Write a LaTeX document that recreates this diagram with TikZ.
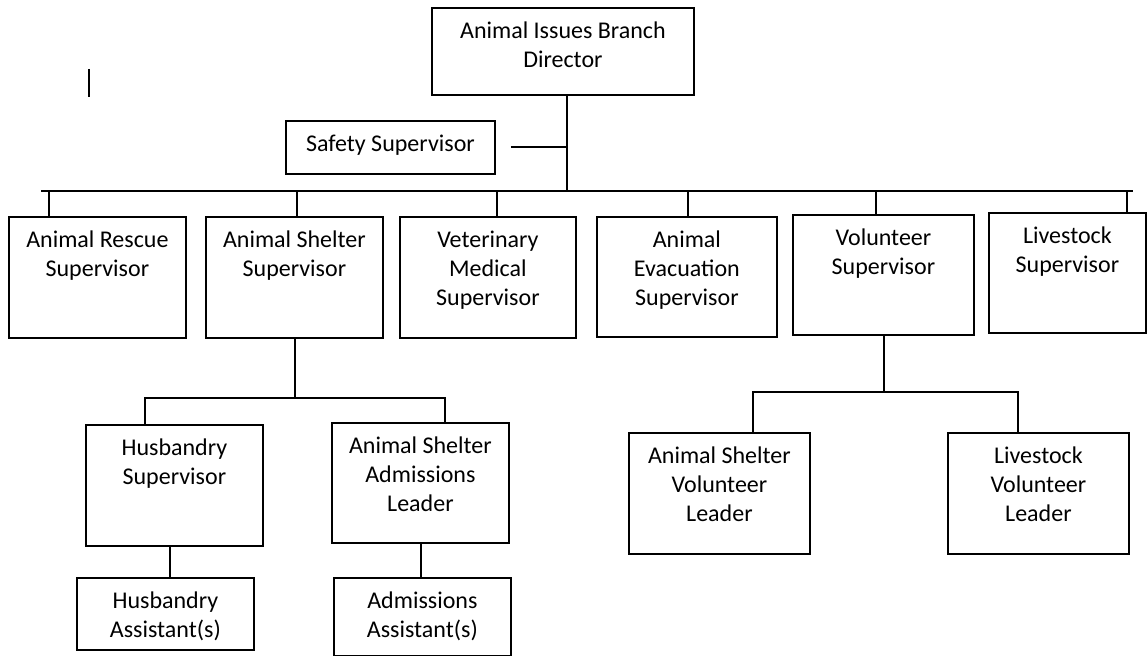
\documentclass[tikz,border=0pt]{standalone}
\usepackage{fontspec}
\setmainfont{Carlito}
\tikzstyle{chart}=[x=0.5pt, y=-0.5pt, line width=0.9pt]
\tikzstyle{post}=[rectangle, draw, anchor=north west, inner sep=0pt, align=flush center, font=\fontsize{12}{14.4}\selectfont, text height=15.5pt]
\tikzstyle{link}=[-, line width=0.9pt]
\begin{document}
\begin{tikzpicture}[chart]
				\useasboundingbox (0,0) rectangle (1148,656);
				
				%The director and safety
				\draw (431,7) node[post, text width=131pt, text depth=28pt] (director) {Animal Issues Branch\\Director};
				\draw (285,120) node[post, text width=104.5pt, text depth=11pt] (safety) {Safety Supervisor};
				
				%The supervisors
				\draw (8,216) node[post, text width=88.5pt, text depth=45pt] (rescue) {Animal Rescue\\Supervisor};
				\draw (205,216) node[post, text width=88.5pt, text depth=45pt] (shelter) {Animal Shelter\\Supervisor};
				\draw (399,216) node[post, text width=88pt, text depth=45pt] (vet) {Veterinary\\Medical\\Supervisor};
				\draw (596,216) node[post, text width=90pt, text depth=44.5pt] (evac) {Animal\\Evacuation\\Supervisor};
				\draw (792,214) node[post, text width=90.5pt, text depth=44.5pt] (volunteer) {Volunteer\\Supervisor};
				\draw (988,212) node[post, text width=78.5pt, text depth=44.5pt] (livestock) {Livestock\\Supervisor};
				
				%The shelter leaders
				\draw (85,424) node[post, text width=88.5pt, text depth=45pt] (husbandry) {Husbandry\\Supervisor};
				\draw (331,422) node[post, text width=88.5pt, text depth=44.5pt] (admlead) {Animal Shelter\\Admissions\\Leader};
				\draw (76,577) node[post, text width=88.5pt, text depth=20.5pt] (husasst) {Husbandry\\Assistant(s)};
				\draw (333,577) node[post, text width=88.5pt, text depth=23.5pt] (admasst) {Admissions\\Assistant(s)};
				
				%The volunteer leaders
				\draw (628,432) node[post, text width=90.5pt, text depth=45pt] (shvol) {Animal Shelter\\Volunteer\\Leader};
				\draw (947,432) node[post, text width=90.5pt, text depth=45pt] (lsvol) {Livestock\\Volunteer\\Leader};
				
				%The spine and the bus
				\coordinate (spine) at (567,191);
				\coordinate (busL) at (41,191);
				\coordinate (busR) at (1133,191);
				\draw[link] (director.south -| spine) -- (spine);
				\draw[link] ([xshift=7.5pt]safety.east) -- (safety.east -| spine);
				\draw[link] (busL) -- (busR);
				\foreach \n/\x in {rescue/49, shelter/297, vet/497, evac/688, volunteer/876, livestock/1127}
				{
					\coordinate (d\n) at (\x,191);
					\draw[link] (d\n) -- (d\n |- \n.north);
				}
				
				%Under the shelter supervisor
				\coordinate (sj) at (295,398);
				\coordinate (hL) at (145,398);
				\coordinate (hR) at (445,398);
				\draw[link] (shelter.south -| sj) -- (sj);
				\draw[link] (hL |- husbandry.north) -- (hL) -- (hR) -- (hR |- admlead.north);
				\draw[link] ([xshift=-2.25pt]husbandry.south) -- ([xshift=-2.25pt]husbandry.south |- husasst.north);
				\draw[link] ([xshift=0.25pt]admlead.south) -- ([xshift=0.25pt]admlead.south |- admasst.north);
				
				%Under the volunteer supervisor
				\coordinate (vj) at (884,392);
				\coordinate (vL) at (753,392);
				\coordinate (vR) at (1018,392);
				\draw[link] (volunteer.south -| vj) -- (vj);
				\draw[link] (vL |- shvol.north) -- (vL) -- (vR) -- (vR |- lsvol.north);
				
				%The stray mark
				\draw[link] (89,69) -- (89,97);
\end{tikzpicture}
\end{document}
